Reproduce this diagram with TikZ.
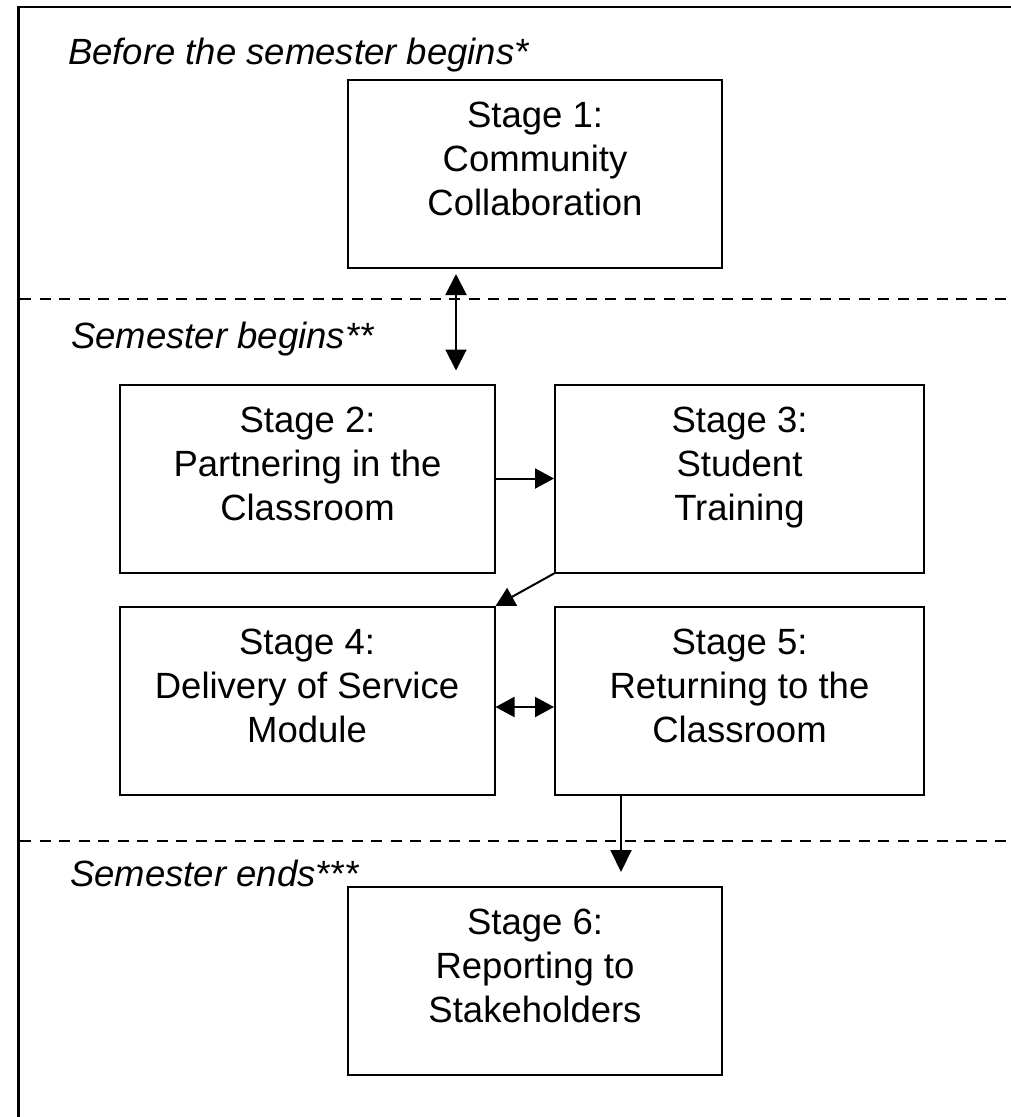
\documentclass[tikz,border=0pt]{standalone}
\usepackage{fontspec}
\setmainfont{Liberation Sans}
\usetikzlibrary{arrows.meta}
% struts fixing the height of the first line and the depth of the last one
\newcommand{\topstrut}{\rule{0pt}{27pt}}
\newcommand{\botstrut}{\rule[-32pt]{0pt}{32pt}}
\tikzset{
  stagebox/.style={draw, line width=2pt, minimum width=374pt, minimum height=188pt,
    inner sep=0pt, align=center, font=\fontsize{36.5}{44}\selectfont},
  period/.style={anchor=base west, inner sep=0pt, font=\fontsize{36.5}{44}\selectfont\itshape},
  divider/.style={line width=2.4pt, dash pattern=on 11pt off 8.5pt},
  link/.style={line width=2pt, -{Triangle[length=19pt,width=20pt]}},
  duallink/.style={line width=2pt, {Triangle[length=19pt,width=20pt]}-{Triangle[length=19pt,width=20pt]}},
  bigduallink/.style={line width=2pt, {Triangle[length=21pt,width=21pt]}-{Triangle[length=21pt,width=21pt]}},
  biglink/.style={line width=2pt, -{Triangle[length=22pt,width=21pt]}},
}
\begin{document}
\begin{tikzpicture}[x=1pt,y=-1pt]
\useasboundingbox[fill=white] (0,0) rectangle (1011,1117);

% outer frame (left and top edges)
\draw[line width=2.6pt] (18.5,1117) -- (18.5,7) -- (1011,7);

% phase dividers
\draw[divider] (20,299) -- (1011,299);
\draw[divider] (20,841) -- (1011,841);

% phase labels
\node[period] (p1) at (68,64) {Before the semester begins*};
\node[period] (p2) at (71,348) {Semester begins**};
\node[period] (p3) at (70,886) {Semester ends***};

% stages
\node[stagebox] (s1) at (535,174) {\topstrut Stage 1:\\Community\\\botstrut Collaboration};
\node[stagebox, minimum width=375pt] (s2) at (307.5,478.5) {\topstrut Stage 2:\\Partnering in the\\\botstrut Classroom};
\node[stagebox, minimum width=369pt] (s3) at (739.5,478.5) {\topstrut Stage 3:\\Student\\\botstrut Training};
\node[stagebox, minimum width=375pt] (s4) at (307,701) {\topstrut Stage 4:\\Delivery of Service\\\botstrut Module};
\node[stagebox, minimum width=369pt] (s5) at (739.5,701) {\topstrut Stage 5:\\Returning to the\\\botstrut Classroom};
\node[stagebox] (s6) at (535,981) {\topstrut Stage 6:\\Reporting to\\\botstrut Stakeholders};

% connectors
\draw[bigduallink, shorten <=5pt, shorten >=13pt]
  ([xshift=-40pt]s2.north east |- s1.south) -- ([xshift=-40pt]s2.north east);
\draw[link] (s2.east) -- (s3.west);
\draw[link] (s3.south west) -- (s4.north east);
\draw[duallink] ([yshift=-6pt]s4.east) -- ([yshift=-6pt]s5.west);
\draw[biglink, shorten >=14pt] ([xshift=67pt]s5.south west) -- ([xshift=67pt]s5.south west |- s6.north);
\end{tikzpicture}
\end{document}
